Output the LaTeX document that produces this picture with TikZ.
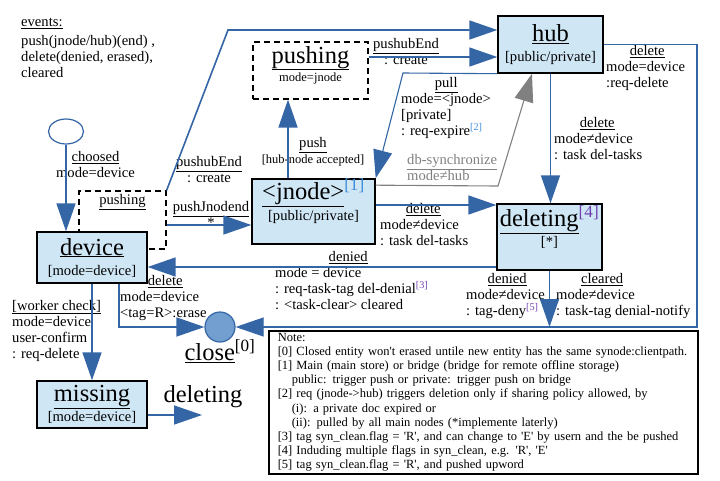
\documentclass[tikz,border=0pt]{standalone}
\usepackage{fontspec}
\setmainfont{Liberation Serif}
\usepackage{xcolor}
\definecolor{lineblue}{HTML}{3465A4}
\definecolor{boxblue}{HTML}{CFE6F5}
\definecolor{dotblue}{HTML}{729FCF}
\definecolor{supblue}{HTML}{3D8BD9}
\definecolor{suppurple}{HTML}{7040B0}
\usetikzlibrary{positioning,arrows.meta,shapes.geometric,calc}
\newcommand{\statetitle}[2][]{{\fontsize{24.5}{26}\selectfont\underline{#2}#1}}

\begin{document}
\begin{tikzpicture}[
  x=1pt, y=-1pt,
  state/.style={draw, line width=1.4pt, fill=boxblue, align=center, inner sep=0pt,
                font=\fontsize{14.6}{16}\selectfont},
  dashbox/.style={draw, dash pattern=on 6pt off 4pt, line width=1.2pt, fill=white, inner sep=0pt,
                  align=center, font=\fontsize{14.6}{16}\selectfont},
  lbl/.style={font=\fontsize{14.6}{16}\selectfont, align=left, inner sep=0pt, anchor=north west},
  lblc/.style={lbl, align=center, anchor=north},
  arr/.style={-{Triangle[length=28pt,width=19pt]}, line width=1.6pt, draw=lineblue},
  thinline/.style={line width=1.1pt},
]
  \useasboundingbox (0,0) rectangle (720,480);

  % events
  \node[lbl] (events) at (21,18) {\underline{events:}};
  \node[lbl] (eventlist) at (21,35) {push(jnode/hub)(end) ,\\delete(denied, erased),\\cleared};

  % states
  \node[ellipse, draw=lineblue, line width=1.2pt, minimum width=35pt, minimum height=25pt, inner sep=0pt] (init) at (66,131.5) {};
  \node[dashbox, minimum width=87pt, minimum height=58pt] (pushdev) at (122.5,220) {};
  \node[lblc] (pushdev-title) at (122.5,194) {\underline{pushing}};
  \node[state, minimum width=110pt, minimum height=51pt] (device) at (92,257.5)
    {\statetitle{device}\\[4pt]{[mode=device]}};
  \node[dashbox, minimum width=115pt, minimum height=57pt] (pushjn) at (310.5,70.5)
    {\statetitle{pushing}\\[2pt]{\fontsize{12.5}{14}\selectfont mode=jnode}\\[-2pt]\mbox{}};
  \node[state, minimum width=105pt, minimum height=57pt] (hub) at (550.5,44.5)
    {\statetitle{hub}\\[4pt]{[public/private]}};
  \node[state, minimum width=123pt, minimum height=65pt] (jnode) at (313.5,211.5)
    {\statetitle[\textsuperscript{\color{supblue}[1]}]{<jnode>}\\[2pt]{[public/private]}\\[8pt]\mbox{}};
  \node[state, minimum width=105pt, minimum height=66pt] (deleting) at (549.5,237)
    {\statetitle[\textsuperscript{\color{suppurple}[4]}]{deleting}\\[1pt]{[*]}\\[6pt]\mbox{}};
  \node[state, minimum width=110pt, minimum height=47pt] (missing) at (92,404.5)
    {\statetitle{missing}\\[2pt]{[mode=device]}};
  \node[circle, draw=lineblue, fill=dotblue, line width=1.2pt, minimum size=30pt, inner sep=0pt] (close) at (220,327) {};
  \node[below=-3pt of close, inner sep=0pt, font=\fontsize{24.5}{26}\selectfont] (close-title)
    {\underline{close}\textsuperscript{[0]}};
  \node[inner sep=0pt, font=\fontsize{24.5}{26}\selectfont] (delnext) at (203,397) {deleting};

  % transition labels
  \node[lblc] (choosed) at (95.5,151) {\underline{choosed}\\mode=device};
  \node[lblc] (hubend-left) at (209,156) {\underline{pushubEnd}\\: create};
  \node[lblc] (jnend) at (211,201) {\underline{pushJnodend}\\*};
  \node[lblc] (push) at (313,137) {\underline{push}\\{\fontsize{12.5}{14}\selectfont[hub-node accepted]}};
  \node[lblc] (hubend-top) at (406,38) {\underline{pushubEnd}\\: create};
  \node[lbl] (pull) at (401,77)
    {\makebox[90pt]{\underline{pull}}\\mode=<jnode>\\{[private]}\\: req-expire\textsuperscript{\color{supblue}[2]}};
  \node[lbl, text=gray] (sync) at (407,154) {\underline{db-synchronize}\\mode≠hub};
  \node[lbl] (hubdel) at (554,117) {\makebox[86pt]{\underline{delete}}\\mode≠device\\: task del-tasks};
  \node[lbl] (hubreq) at (606,45) {\makebox[82pt]{\underline{delete}}\\mode=device\\:req-delete};
  \node[lbl] (jndel) at (380,203) {\makebox[86pt]{\underline{delete}}\\mode≠device\\: task del-tasks};
  \node[lbl] (denied) at (275,251)
    {\makebox[146pt]{\underline{denied}}\\mode = device\\: req-task-tag del-denial\textsuperscript{\color{suppurple}[3]}\\: <task-clear> cleared};
  \node[lbl] (erase) at (120,275) {\makebox[90pt]{\underline{delete}}\\mode=device\\<tag=R>:erase};
  \node[lbl] (worker) at (12,300) {\underline{[worker check]}\\mode=device\\user-confirm\\: req-delete};
  \node[lbl] (deny) at (466,273) {\makebox[82pt]{\underline{denied}}\\mode≠device\\: tag-deny\textsuperscript{\color{suppurple}[5]}};
  \node[lbl] (cleared) at (556,273) {\makebox[92pt]{\underline{cleared}}\\mode≠device\\: task-tag denial-notify};

  % connectors
  \coordinate (topbend) at (228,30);
  \coordinate (jnin) at ([yshift=-13.5pt]jnode.west);
  \coordinate (pushup) at ([xshift=-25.5pt]jnode.north);
  \coordinate (hubin) at ([yshift=13.5pt]pushjn.east);
  \coordinate (pullbend) at (403,73);
  \coordinate (syncout) at ([yshift=-7pt]jnode.north east);
  \coordinate (syncbend) at (498,186);
  \coordinate (syncin) at ([xshift=-18.5pt]hub.south);
  \coordinate (rightcorner) at (697,327);
  \coordinate (delin) at ([yshift=6.5pt]jnode.east);
  \coordinate (deniedout) at ([yshift=-30pt]deleting.west);
  \coordinate (eraseout) at ([xshift=27pt]device.south);
  \coordinate (nexttip) at (202,415);

  \draw[arr] (init.south) -- (init.south |- device.north);
  \draw[arr] (pushdev.north east) -- (topbend) -- (topbend -| hub.west);
  \draw[arr] (jnin -| pushdev.east) -- (jnin);
  \draw[arr] (pushup) -- (pushup |- pushjn.south);
  \draw[arr] (hubin) -- (hubin -| hub.west);
  \draw[arr, thinline] (hub.south west) -- (pullbend) -- (jnode.north east);
  \draw[arr, thinline, draw=gray] (syncout) -- (syncbend) -- (syncin);
  \draw[arr] (hub.south) -- (hub.south |- deleting.north);
  \draw[arr, thinline] (hub.east) -| (rightcorner) -- (close.east);
  \draw[arr] (delin) -- (delin -| deleting.west);
  \draw[arr] (deniedout) -- (deniedout -| device.east);
  \draw[arr] (deleting.south) -- (deleting.south |- close);
  \draw[arr] (eraseout) |- (close.west);
  \draw[arr] (device.south) -- (device.south |- missing.north);
  \draw[arr] (nexttip -| missing.east) -- (nexttip);

  % note
  \node[draw, line width=1.5pt, fill=white, anchor=north west, text width=411pt, inner xsep=9pt,
        inner ysep=0pt, minimum height=143pt, align=left, font=\fontsize{12.5}{14.1}\selectfont] (note) at (268,330)
    {Note:\\
     \mbox{[0] Closed entity won\textquotesingle t erased untile new entity has the same synode:clientpath.}\\
     \mbox{[1] Main (main store) or bridge (bridge for remote offline storage)}\\
     \mbox{\hspace*{14pt}public: trigger push or private: trigger push on bridge}\\
     \mbox{[2] req (jnode->hub) triggers deletion only if sharing policy allowed, by}\\
     \mbox{\hspace*{14pt}(i): a private doc expired or}\\
     \mbox{\hspace*{14pt}(ii): pulled by all main nodes (*implemente laterly)}\\
     \mbox{[3] tag syn\_clean.flag = \textquotesingle R\textquotesingle, and can change to \textquotesingle E\textquotesingle\ by usern and the be pushed}\\
     \mbox{[4] Induding multiple flags in syn\_clean, e.g. \textquotesingle R\textquotesingle, \textquotesingle E\textquotesingle}\\
     \mbox{[5] tag syn\_clean.flag = \textquotesingle R\textquotesingle, and pushed upword}};
\end{tikzpicture}
\end{document}
